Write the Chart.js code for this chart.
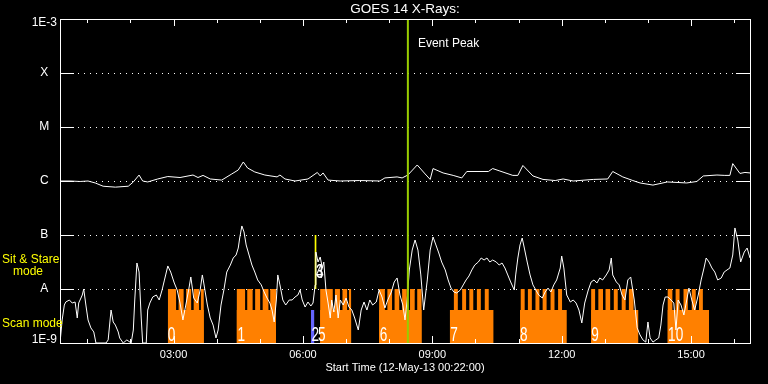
<!DOCTYPE html>
<html><head><meta charset="utf-8">
<script src="https://cdn.jsdelivr.net/npm/chart.js@4.4.0/dist/chart.umd.min.js"></script>
<style>html,body{margin:0;padding:0;background:#000;overflow:hidden}</style>
</head><body>
<canvas id="c" width="768" height="384"></canvas>
<script>
// ---------- text ----------
const chartTitle = 'GOES 14 X-Rays:';
const xTitle = 'Start Time (12-May-13 00:22:00)';
const startMinuteOfDay = 22;      // 00:22
const spanMinutes = 960;          // 16 hours shown
const xTickHours = [3, 6, 9, 12, 15];
const xTickLabels = ['03:00', '06:00', '09:00', '12:00', '15:00'];
const hourTicks = [1,2,3,4,5,6,7,8,9,10,11,12,13,14,15,16];
const yTickValues = [1e-9, 1e-8, 1e-7, 1e-6, 1e-5, 1e-4, 1e-3];
const yTickLabels = ['1E-9', 'A', 'B', 'C', 'M', 'X', '1E-3'];

// ---------- GOES long channel (minutes after start, W/m^2) ----------
const longTimes = [0,14,28,39,49,60,77,95,102,110,
115,122,136,150,167,185,192,199,209,225,
239,248,255,261,271,285,302,306,313,327,
345,358,362,366,373,390,417,445,452,469,
476,484,497,508,515,519,533,547,559,566,
596,602,612,630,637,644,658,672,689,700,
714,742,762,769,783,797,807,825,845,872,
886,895,914,925,932,936,946,953,960];
const longFlux = [1.0e-6,1.0e-6,9.8e-7,1.0e-6,9.2e-7,8.0e-7,7.7e-7,8.0e-7,9.6e-7,1.29e-6,
1.0e-6,9.6e-7,1.09e-6,1.21e-6,1.16e-6,1.29e-6,1.16e-6,1.27e-6,1.09e-6,1.04e-6,
1.35e-6,1.6e-6,2.25e-6,1.74e-6,1.47e-6,1.29e-6,1.19e-6,1.29e-6,1.09e-6,1.0e-6,
1.09e-6,1.44e-6,1.24e-6,1.41e-6,1.04e-6,1.0e-6,1.02e-6,1.0e-6,1.14e-6,1.19e-6,
1.14e-6,1.29e-6,1.98e-6,1.35e-6,1.07e-6,1.7e-6,1.41e-6,1.27e-6,1.14e-6,1.5e-6,
1.5e-6,1.7e-6,1.53e-6,1.27e-6,1.27e-6,1.94e-6,1.24e-6,1.07e-6,1.02e-6,1.09e-6,
1.0e-6,1.07e-6,1.09e-6,1.5e-6,1.19e-6,1.02e-6,9.2e-7,8.4e-7,9.6e-7,9.2e-7,
9.8e-7,1.24e-6,1.29e-6,1.27e-6,1.27e-6,2.1e-6,1.38e-6,1.44e-6,1.41e-6];

// ---------- GOES short channel ----------
const shortTimes = [0,3,6,8,13,17,21,24,26,31,
33,36,39,43,47,50,64,67,71,74,
77,81,83,88,93,99,102,104,107,110,
113,115,120,122,125,129,134,138,142,145,
147,150,154,159,163,167,171,175,179,182,
186,191,195,198,200,205,209,213,217,220,
224,228,232,237,241,245,248,250,253,256,
259,263,267,271,275,280,284,288,292,295,
298,301,303,306,310,314,319,323,327,331,
334,337,341,345,349,352,355,356,359,362,
365,367,370,373,376,378,381,384,387,390,
394,398,402,406,410,415,419,423,427,431,
435,440,444,448,452,456,461,465,469,473,
477,480,483,486,490,494,498,502,506,511,
515,519,523,527,531,536,540,544,548,552,
557,561,565,569,573,577,582,586,590,594,
598,602,607,611,615,619,623,627,632,634,
637,640,643,646,650,654,658,662,666,671,
675,679,683,687,691,696,698,701,705,710,
714,718,722,726,730,735,739,743,747,751,
755,760,764,767,769,774,778,782,786,790,
794,799,803,807,811,815,818,821,825,829,
833,836,839,842,846,850,854,857,860,864,
868,872,875,879,883,888,892,896,899,903,
907,911,915,920,924,928,932,936,939,943,
947,952,956,960];
const shortFlux = [1.0e-9,2.67e-9,5.05e-9,5.74e-9,6.26e-9,5.5e-9,5.74e-9,2.9e-9,5.5e-9,7.74e-9,
1.0e-8,5.05e-9,2.67e-9,1.9e-9,1.6e-9,1.0e-9,1.0e-9,1.14e-9,4.08e-9,2.45e-9,
2.15e-9,1.6e-9,1.24e-9,1.0e-9,1.14e-9,1.0e-9,1.74e-9,6.26e-9,3.03e-8,2.06e-8,
2.9e-9,1.0e-9,1.0e-9,4.08e-9,5.5e-9,7.11e-9,7.74e-9,6.26e-9,9.58e-9,1.41e-8,
1.82e-8,2.67e-8,2.06e-8,1.29e-8,9.58e-9,5.5e-9,2.67e-9,5.05e-9,9.58e-9,1.67e-8,
6.81e-9,5.5e-9,9.58e-9,1.82e-8,1.29e-8,5.05e-9,2.9e-9,2.15e-9,1.24e-9,1.74e-9,
5.05e-9,9.58e-9,2.06e-8,2.78e-8,3.75e-8,4.26e-8,5.74e-8,8.8e-8,1.47e-7,1.14e-7,
6.53e-8,4.26e-8,2.78e-8,2.06e-8,1.47e-8,1.19e-8,8.8e-9,6.81e-9,5.5e-9,4.08e-9,
2.45e-9,6.26e-9,1.82e-8,1.19e-8,6.26e-9,5.05e-9,6.26e-9,6.26e-9,7.11e-9,7.74e-9,
9.58e-9,6.26e-9,4.64e-9,5.74e-9,4.84e-9,5.5e-9,1.19e-8,4.84e-8,3.16e-8,3.91e-8,
2.45e-8,3.16e-8,9.58e-9,5.5e-9,2.9e-9,6.26e-9,3.75e-9,7.74e-9,2.9e-9,6.26e-9,
5.05e-9,6.81e-9,4.64e-9,4.08e-9,2.9e-9,1.74e-9,4.08e-9,5.74e-9,4.08e-9,6.26e-9,
5.05e-9,5.74e-9,9.58e-9,7.11e-9,4.45e-9,6.26e-9,8.8e-9,1.35e-8,1.6e-8,7.74e-9,
5.05e-9,2.67e-9,6.26e-9,2.25e-8,5.27e-8,8.08e-8,5.27e-8,1.82e-8,4.08e-9,1.47e-8,
5.27e-8,9.18e-8,6.53e-8,4.64e-8,3.16e-8,2.25e-8,1.47e-8,1.04e-8,8.8e-9,8.43e-9,
9.58e-9,1.19e-8,1.47e-8,1.74e-8,2.25e-8,2.78e-8,3.16e-8,3.75e-8,3.44e-8,3.75e-8,
3.16e-8,3.44e-8,3.16e-8,2.78e-8,3.03e-8,2.45e-8,1.82e-8,1.35e-8,9.58e-9,1.82e-8,
3.75e-8,6.53e-8,8.8e-8,5.74e-8,3.16e-8,1.82e-8,1.19e-8,9.58e-9,7.74e-9,6.81e-9,
8.8e-9,1.04e-8,8.8e-9,1.19e-8,1.47e-8,2.45e-8,4.08e-8,2.45e-8,7.74e-9,5.74e-9,
6.26e-9,5.5e-9,4.08e-9,2.35e-9,5.5e-9,9.58e-9,1.35e-8,1.47e-8,1.29e-8,1.6e-8,
1.47e-8,1.82e-8,2.25e-8,3.75e-8,1.82e-8,1.35e-8,1.19e-8,7.74e-9,6.26e-9,1.47e-8,
1.67e-8,6.26e-9,1.9e-9,1.41e-9,1.14e-9,1.04e-9,2.45e-9,1.24e-9,1.04e-9,1.14e-9,
1.24e-9,2.15e-9,5.05e-9,7.11e-9,7.11e-9,6.26e-9,5.5e-9,1.74e-9,6.26e-9,5.05e-9,
3.3e-9,6.26e-9,1.04e-8,6.26e-9,4.08e-9,7.74e-9,1.47e-8,2.45e-8,3.75e-8,3.16e-8,
2.45e-8,2.06e-8,1.47e-8,1.6e-8,2.06e-8,2.25e-8,2.45e-8,4.26e-8,1.35e-7,8.08e-8,
3.16e-8,4.84e-8,5.74e-8,3.75e-8];

// ---------- event ----------
const eventPeakMinute = 484;       // 08:26
const eventLabel = 'Event Peak';

// ---------- observation timeline (minutes after start) ----------
const scanBlocks = [[150,200],[246,300.5],[362,405],[444,503],[542.5,603],[640,705],[739,804.5],[845.5,903]];
const scanSteps = [
  [150,161.5],[165,172],[175.5,182.5],[186,193.5],[196,200],
  [246,257.5],[260.5,268],[271.5,278.5],[282,290],[292.5,300.5],
  [362,379.5],[382.5,389.5],[393,399.5],[402,405],
  [444,452],[455.5,462],[465.5,472],[476,482.5],[487,493.5],[497,503],
  [548,553.5],[559.5,565],[569.5,575],[580,585.5],[591,596.5],
  [641,646.5],[651,656.5],[661.5,667],[671.5,677],[682.5,688],[693,698.5],
  [739,744.5],[749,755.5],[759,765.5],[770.5,776],[781.5,787],[791.5,798],
  [845.5,852],[856.5,862],[867.5,873.5],[879,884.5],[889,894.5]
];
const quickScan = [[349,354]];
const sitStare = [[354,357]];
const scanBaseLevel = 4.1e-9;
const stepLevel = 1e-8;
const sitStareLow = 1e-8, sitStareHigh = 1e-7;
const studyLabels     = ['0','1','2','3','4','5','6','7','8','9','10'];
const studyLabelTimes = [150,247,350,356,356,359,445,543,640,739,846];
const studyLabelFlux  = [1.07e-9,1.07e-9,1.07e-9,1.6e-8,1.6e-8,1.07e-9,1.07e-9,1.07e-9,1.07e-9,1.07e-9,1.07e-9];
const modeTexts = ['Sit & Stare', 'mode', 'Scan mode'];

// ---------- build ----------
const yMin = yTickValues[0], yMax = yTickValues[yTickValues.length - 1];
const toXY = (ts, vs) => ts.map((t, i) => ({x: t, y: vs[i]}));
function rectPoints(intervals, top, floor) {
  const pts = [];
  intervals.forEach(([s, e]) => {
    pts.push({x: s, y: floor}, {x: s, y: top}, {x: e, y: top}, {x: e, y: floor});
  });
  return pts;
}
const noLine = {borderColor: 'rgba(0,0,0,0)', borderWidth: 0, pointRadius: 0};

Chart.defaults.font.family = '"Liberation Sans", Arial, sans-serif';
Chart.defaults.color = '#ffffff';

const idlAxes = {
  id: 'idlAxes',
  beforeDraw(chart) {
    // end labels sit just inside the frame, as in the original plot
    const items = chart.scales.y.getLabelItems();
    if (items.length) {
      items[0].options.translation[1] -= 3;
      items[items.length - 1].options.translation[1] += 4;
    }
  },
  beforeDatasetsDraw(chart) {
    const {ctx, chartArea: a, scales: {y}} = chart;
    ctx.save();
    ctx.strokeStyle = '#ffffff'; ctx.lineWidth = 1; ctx.setLineDash([1, 5]);
    yTickValues.slice(1, -1).forEach(v => {
      const py = Math.round(y.getPixelForValue(v)) + 0.5;
      ctx.beginPath(); ctx.moveTo(a.left + 18, py); ctx.lineTo(a.right - 14, py); ctx.stroke();
    });
    ctx.restore();
  },
  afterDatasetsDraw(chart) {
    const {ctx, chartArea: a, scales: {x, y}} = chart;
    ctx.save();
    ctx.strokeStyle = '#ffffff'; ctx.lineWidth = 1;
    ctx.strokeRect(a.left + 0.5, a.top + 0.5, a.right - a.left, a.bottom - a.top);
    ctx.beginPath();
    yTickValues.slice(1, -1).forEach(v => {
      const py = Math.round(y.getPixelForValue(v)) + 0.5;
      ctx.moveTo(a.left, py); ctx.lineTo(a.left + 14, py);
      ctx.moveTo(a.right - 14, py); ctx.lineTo(a.right, py);
    });
    hourTicks.forEach(h => {
      const px = Math.round(x.getPixelForValue(h * 60 - startMinuteOfDay)) + 0.5;
      const len = xTickHours.includes(h) ? 7 : 4;
      ctx.moveTo(px, a.top); ctx.lineTo(px, a.top + len);
      ctx.moveTo(px, a.bottom); ctx.lineTo(px, a.bottom - len);
    });
    ctx.stroke();

    ctx.fillStyle = '#ffffff';
    ctx.textAlign = 'left'; ctx.textBaseline = 'alphabetic';
    ctx.font = '12px "Liberation Sans"';
    ctx.fillText(eventLabel, x.getPixelForValue(eventPeakMinute) + 10, a.top + 28);

    ctx.font = '20px "Liberation Sans"';
    studyLabels.forEach((s, i) => {
      ctx.save();
      ctx.translate(x.getPixelForValue(studyLabelTimes[i]), y.getPixelForValue(studyLabelFlux[i]));
      ctx.scale(0.68, 1);
      ctx.fillText(s, 0, 0);
      ctx.restore();
    });

    const pA = y.getPixelForValue(stepLevel);
    ctx.fillStyle = '#ffff00';
    ctx.font = '12px "Liberation Sans"';
    ctx.fillText(modeTexts[0], 2, pA - 26);
    ctx.fillText(modeTexts[1], 13, pA - 14);
    ctx.fillText(modeTexts[2], 2, pA + 38);
    ctx.restore();
  }
};

new Chart(document.getElementById('c'), {
  type: 'line',
  data: {
    datasets: [
      {label: eventLabel, data: [{x: eventPeakMinute, y: yMin}, {x: eventPeakMinute, y: yMax}],
       borderColor: '#99cc00', borderWidth: 2, pointRadius: 0, fill: false, order: 0},
      {label: 'GOES long', data: toXY(longTimes, longFlux), borderColor: '#ffffff', borderWidth: 1, pointRadius: 0, fill: false, order: 1},
      {label: 'GOES short', data: toXY(shortTimes, shortFlux), borderColor: '#ffffff', borderWidth: 1, pointRadius: 0, fill: false, order: 2},
      Object.assign({label: 'Sit & Stare', data: rectPoints(sitStare, sitStareHigh, sitStareLow),
       fill: {value: sitStareLow}, backgroundColor: '#ffff00', order: 3}, noLine),
      Object.assign({label: 'Quick scan', data: rectPoints(quickScan, scanBaseLevel, yMin),
       fill: 'start', backgroundColor: '#6464ff', order: 4}, noLine),
      Object.assign({label: 'Scan steps', data: rectPoints(scanSteps, stepLevel, yMin),
       fill: 'start', backgroundColor: '#ff8000', order: 5}, noLine),
      Object.assign({label: 'Scan blocks', data: rectPoints(scanBlocks, scanBaseLevel, yMin),
       fill: 'start', backgroundColor: '#ff8000', order: 6}, noLine)
    ]
  },
  options: {
    responsive: false, animation: false, devicePixelRatio: 1, events: [],
    layout: {padding: {left: 0, right: 18, top: 0, bottom: 0}},
    plugins: {
      legend: {display: false}, tooltip: {enabled: false},
      title: {display: true, text: chartTitle, color: '#ffffff', fullSize: false,
              font: {size: 13.5, weight: 'normal'}, padding: {top: 1, bottom: 1.8}}
    },
    scales: {
      x: {
        type: 'linear', min: 0, max: spanMinutes,
        afterBuildTicks: s => { s.ticks = xTickHours.map(h => ({value: h * 60 - startMinuteOfDay})); },
        afterFit: s => { s.height = 41; },
        grid: {display: false, drawTicks: false}, border: {display: false},
        ticks: {color: '#ffffff', font: {size: 11}, padding: 5.4, autoSkip: false, maxRotation: 0,
                callback: (v, i) => xTickLabels[i]},
        title: {display: true, text: xTitle, color: '#ffffff', font: {size: 11}, padding: {top: 0, bottom: 9.4}}
      },
      y: {
        type: 'logarithmic', min: yMin, max: yMax,
        afterBuildTicks: s => { s.ticks = yTickValues.map(v => ({value: v})); },
        afterFit: s => { s.width = 60; },
        grid: {display: false, drawTicks: false}, border: {display: false},
        ticks: {color: '#ffffff', font: {size: 12}, padding: 3, crossAlign: 'center', autoSkip: false,
                callback: (v, i) => yTickLabels[i]}
      }
    }
  },
  plugins: [idlAxes]
});
</script>
</body></html>
